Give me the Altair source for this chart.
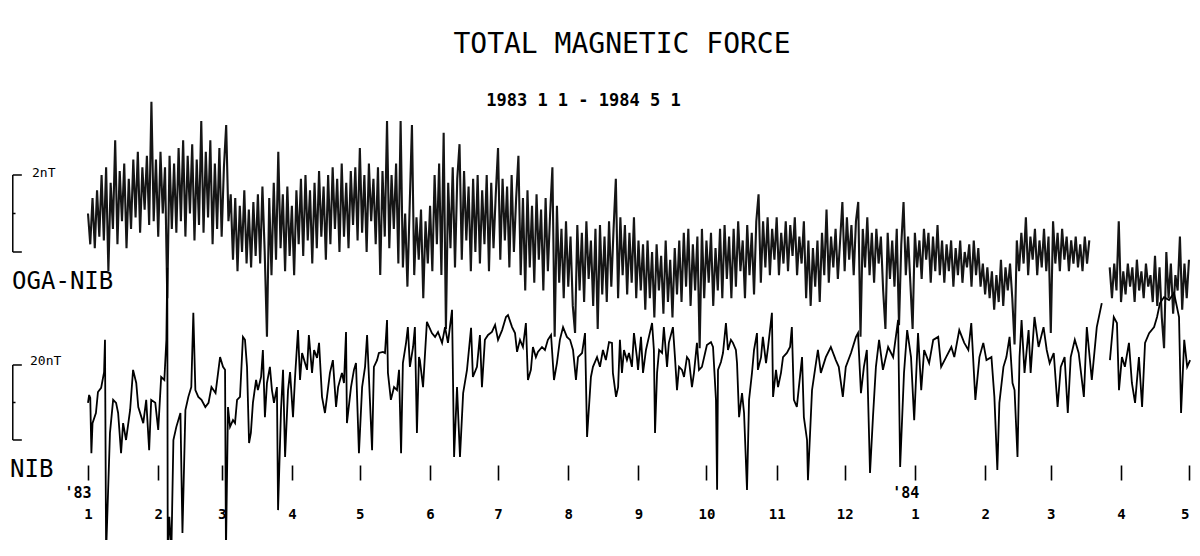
import altair as alt
import pandas as pd

# ---------------- data ----------------
# OGA-NIB daily values, units of 0.1 nT, day 0 = 1983-01-01 (first block: days 0..442)
oga_nib_a = [
    10, 2, 14, 1, 16,
    4, 20, 3, 22, -5, 18, 6, 29, 2, 21, 8, 23, 1, 19,
    6, 24, 9, 26, 5, 22, 11, 25, 7, 39, 8,
    24, 4, 26, 10, 22, -12, 25, 6, 23,
    5, 27, 8, 29, 4, 25, 10, 28, 3, 24, 7, 34, 5, 26, 9, 29, 2, 23, 6, 27, 4, 22, 33, 8,
    15, -2, 14, -5, 12, 0, 16, -3, 11, -4, 13, -1, 15,
    -3, 17, 0, -22, 14, -6, 18, -2, 26, 1, 15, -5, 17, -1, 12, -6, 16, 2,
    19, -1, 20, 3, 16, -3, 18, 1, 21, 4, 17, -2, 20,
    2, 22, 6, 19, 0, 23, 4, 18, 1, 21, 7, 22, 3, 27, 5, 20, 0, 23, 8, 19, 2, 22, -6, 21, 4, 34, 1, 20, 6, 23, -3,
    34, -4, 10, -9, 12, 33, -6, 9, -2, 11, -12, 8, -3, 12,
    -5, 20, 2, 23, -6, 31, -20, 18, 1, 22, -4, 19, 28, -2, 21, 3, 17,
    -5, 19, 0, 20, -3, 16, 2, 20, -5, 18, 1, 15, 27, -2, 19, 3, 17, -4, 20, 0, 14, 25,
    -6, 14, -10, 16, -4, 12, -8, 15, -2, 11, -10, 14, -5, 10, 22, -22, 12, -8,
    6, -12, 8, -9, 4, -14, -21, 7, -10, 5, -13, 8, -7, 3, -14, 6, -20, 7, -11, 4, -13, 8,
    -9, 6, 19, -12, 9, -6, 7, -11, 5, -8, 9, -12, 3, -10,
    2, -15, 3, -12, 0, -17, 2, -10, -1, -16, 3, -13, -2, -17, 1, -11, 3,
    -13, 5, -9, 6, -14, 2, -10, 4, -25, 6, -12, 3, -8, 5, -14, 1, -10, 6,
    -12, 7, -7, 4, -12, 6, -9, 8, -5, 3, -12, 7, -6, 5, -11, 8, 15, -8,
    8, -4, 9, -6, 6, -2, 9, -6, 5, -3, 8, -5, 7, -1, 9, -6, 4, -3,
    8, -12, 3, -14, 1, -9, 3, -13,
    5, -6, 11, -8, 4, -4, 6, -7, 3,
    13, -5, 9, -2, 7, -6, 8, 13, -22, 6, -4, 9, -6, 5,
    -8, 6, -3, 4, -10, -20, 5, -7, 3, -9, 6, -19, 2,
    13, -6, 4, -8, -20, 5, -4, 3, -7, 6, -2, 5, -8, 4, -5, 7, -6, 3,
    -8, 2, -5, 3, -9, 1, -6, 3, -8, 0, -4, 2, -9, 3, -6, 1, -9,
    -3, -11, -4, -12, -5, -15, -6, -13, -2, -14, -4, -10, -3, -12,
    -24, 3, -5, 5, -3, 9, -6, 4, -2, 6, -6, 3, -4,
    6, -5, 4, -21, 8, -3, 5, -5, 6,
    -2, 4, -5, 3, -3, 4, -4, 2, -5, 4, -3, 3,
]
# second block after the gap: days 451..486
oga_nib_b_start = 451
oga_nib_b = [
    -4, -12, -3, -10, 8, -13, -5, -11, -3, -9, -4, -13, -2, -10, -5, -12, -3, -9, -6, -13,
    -1, -14, -4, -17, -25, 0, -12, -3, -16, -6, -10, 4, -15, -3, -12, -2,
]

# NIB values (nT, relative) at days since 1983-01-01
nib_day = [
    # Jan - Feb 1983
    0, 0.5, 1, 1.5, 2, 3.5, 4.4, 5.8, 7.1, 7.5,
    8, 9.7, 11.1, 12.4, 13.3, 14.6, 15.5, 16.8, 18.6, 19.9,
    21.3, 22.2, 24.4, 25.7, 27, 27.9, 29.7, 31, 32.3, 33.7,
    34.6, 35, 35.2, 35.9, 36.8, 37.7, 39, 40.8, 41.7, 43,
    44.3, 45.6, 46.5, 47.4, 48.7, 50.1, 51.8, 53.2, 54.5, 56.3,
    # Mar - May
    58.3, 59.6, 60.5, 60.9, 61.8, 62.7, 64, 64.9, 65.8, 67.1,
    68.4, 69.3, 70.2, 71.1, 71.9, 72.8, 74.2, 75, 76.4, 77.2,
    78.1, 79, 80.3, 81.2, 82.1, 83.4, 83.9, 85.2, 86.1, 87,
    88.3, 89.2, 90.5, 91.4, 92.7, 93.6, 94.5, 95.8, 96.7, 97.5,
    98.9, 99.8, 101.1, 102, 103.3, 104.6, 105.5, 106.8, 108.1, 109.5,
    110.4, 112.1, 113, 113.9, 114.3, 116.1, 117.4, 118.3, 119.6, 121,
    122.3, 123.2, 124.5, 125.4, 126.2, 127.6, 128.4, 130.2, 131.1, 132,
    132.4, 133.7, 135.1, 136.4, 137.3, 138.2, 139, 140.4, 141.2, 142.1,
    143.5, 144.3, 145.2, 146.1,
    # Jun - Aug
    146.5, 147.9, 149.6, 151.8, 153.2, 154.5, 156.3, 157.6, 158.9, 160.7,
    161.6, 162.9, 164.2, 165.6, 167.3, 169.1, 169.9, 171.7, 173, 173.9,
    175.2, 176.6, 178.3, 179.7, 181, 182.8, 184.5, 185.4, 187.2, 188.5,
    189.4, 190.7, 192, 193.3, 194.2, 195.5, 196.4, 197.7, 198.6, 200.4,
    201.7, 203, 204.4, 205.7, 207, 208.3, 209.7, 211.4, 212.8, 214.1,
    215.4, 216.3, 218.1, 219.4, 220.3, 222, 222.9, 224.7, 226, 227.3,
    228.6, 230, 231.3, 231.7, 233.1, 234,
    # Aug - Nov
    234.8, 235.7, 236.6, 237.9, 238.8, 240.1, 241, 242.3, 242.8, 244.1,
    245, 246.3, 247.6, 249, 249.8, 250.3, 251.2, 252.1, 253.4, 254.2,
    255.6, 256.4, 258.2, 259.1, 260, 260.9, 262.2, 263.1, 264.4, 265.3,
    266.6, 267.5, 268.8, 269.7, 271, 272.4, 273.2, 275, 275.9, 277.2,
    277.7, 278.1, 279.4, 280.3, 281.6, 282.5, 283.8, 284.7, 286, 286.5,
    287.4, 288.7, 289.6, 290.9, 291.8, 293.1, 294, 295.3, 295.7, 297.1,
    297.9, 299.3, 300.2, 301.9, 302.4, 303.7, 304.6, 305.9, 306.8, 308.5,
    309.9, 310.7, 311.6, 312.9, 313.8, 315.2, 316, 317.4, 317.8, 319.6,
    320.9, 322.2,
    # Nov 1983 - May 1984
    323.5,
    325.7, 327.9, 330.1, 331.4, 333.2, 334.5, 336.8, 339, 339.9, 341.2,
    342.5, 343.8, 345.2, 346.5, 347.8, 349.2, 350.9, 353.2, 355.4, 357.6,
    358.5, 360.2, 361.6, 363.3, 364.7, 366.4, 367.8, 369.1, 371.3, 373.1,
    375.3, 376.6, 378.8, 381.1, 382.4, 384.6, 386.8, 388.6, 389.9, 391.7,
    393.5, 395.2, 396.6, 398.8, 400.1, 401.4, 402.3, 404.1, 405.4, 406.8,
    408.1, 409, 410.3, 411.2, 412.1, 413.4, 415.2, 416.1, 417.8, 419.6,
    421.8, 423.2, 424.5, 426.3, 428, 429.4, 431.1, 432.5, 433.8, 435.6,
    437.3, 439.6, 440.9, 443.1, 445.3, 447.5, 451.1, 452.8, 454.2, 455.1,
    456.4, 457.7, 459.5, 460.8, 462.2, 463.9, 465.3, 466.6, 468.4, 470.6,
    471.9, 473.2, 475, 477.2, 479.4, 481.6, 482.5, 483.9, 485.2, 486.5,
]
nib_nT = [
    # Jan - Feb 1983
    9.9, 12, 11.2, -3.5, 4.5, 7.2, 12.8, 13.9, 18.1, 26.7,
    -30.1, 1.9, 10.7, 9.9, 7.2, -3.5, 4.5, 0, 8, 18.7,
    15.2, 8.8, 4.5, 10.7, -2.7, 10.7, 9.9, 2.7, 16.8, 16,
    26.7, 45.9, -30, -20.5, -30, 0, 3.5, 7.2, -24.8, 8,
    11.5, 14.1, 33.9, 13.3, 11.5, 10.7, 8.8, 9.9, 14.1, 12.5,
    # Mar - May
    22.1, 19.5, 18.7, -30.1, 8.8, 3.5, 5.3, 4.5, 10.7, 11.5,
    27.5, 26.7, 19.5, -0.8, 1.9, 9.9, 16, 13.3, 16.8, 24,
    6.1, 15.2, 19.5, 13.3, 9.9, 14.1, -18.7, 8, 18.7, -4.5,
    13.3, 18.1, 6.1, 16.8, 29.3, 16, 23.2, 20.5, 18.7, 28,
    17.9, 24, 21.9, 25.9, 11.5, 7.2, 11.5, 17.9, 21.3, 8.8,
    14.1, 17.9, 15.2, 28.8, 4.5, 14.1, 18.7, 20.5, -3.5, 14.1,
    19.5, 28, 9.9, -2.7, 19.5, 21.3, 23.2, 23.5, 23.2, 32,
    17.9, 10.7, 14.1, 13.3, 18.7, -3.5, 20.5, 25.9, 30.1, 19.5,
    24.8, 30.1, 1.9, 22.1,
    # Jun - Aug
    21.3, 14.1, 31.5, 28.5, 27.5, 28.8, 25.9, 30.1, 25.9, 34.7,
    -4.5, 14.1, -4.5, 12.5, 18.7, 29.9, 16.8, 19.5, 28, 14.1,
    26.7, 28, 28.8, 30.7, 26.7, 29.3, 32.8, 33.3, 30.1, 28.5,
    23.5, 26.7, 24.8, 31.2, 16, 18.7, 24.8, 22.1, 23.5, 24.8,
    24, 26.7, 28, 16, 20.5, 26.7, 30.1, 27.5, 26.7, 24,
    16, 22.1, 23.2, 28.5, 0.8, 16.8, 19.5, 22.1, 19.5, 24,
    21.3, 26.1, 25.9, 17.9, 11.5, 14.1,
    # Aug - Nov
    26.7, 17.9, 24, 21.3, 23.2, 19.5, 28.5, 22.1, 18.7, 27.5,
    17.9, 24, 27.5, 31.2, 24, 1.9, 17.9, 24, 23.2, 30.1,
    19.5, 25.9, 30.1, 22.1, 13.3, 19.5, 18.7, 16.8, 22.1, 21.3,
    14.1, 17.9, 25.9, 18.7, 19.5, 23.2, 25.3, 26.1, 24.8, 10.7,
    -13.3, 18.7, 20.8, 23.2, 31.2, 24, 26.7, 25.9, 24, 20.5,
    6.1, 12.5, 7.2, -13.3, 10.7, 17.9, 24, 28.5, 18.7, 22.1,
    27.5, 20.5, 24.8, 33.9, 11.5, 18.7, 14.1, 17.9, 22.1, 23.2,
    24.8, 30.1, 10.7, 8.8, 14.1, 22.1, 6.1, 0, -10.7, 13.3,
    18.7, 24,
    # Nov 1983 - May 1984
    17.9,
    22.1, 24.8, 21.3, 19.5, 11.5, 19.5, 23.2, 27.5, 28.5, 12.5,
    19.5, 24, -8.8, 6.1, 19.5, 26.7, 18.7, 24.8, 22.1, 32,
    -7.2, 17.9, 29.3, 22.1, 5.3, 28.5, 13.3, 24, 20.5, 26.7,
    27.5, 19.5, 22.1, 24.8, 22.1, 29.3, 25.9, 24, 31.2, 10.7,
    22.1, 25.9, 21.3, 22.1, 11.5, -8, 9.9, 19.5, 22.1, 27.5,
    15.2, 13.3, -4.5, 22.1, 32, 17.9, 29.3, 17.9, 32.8, 24.8,
    30.1, 24, 20.5, 23.2, 8.8, 19.5, 22.1, 7.2, 22.1, 26.7,
    23.2, 11.5, 30.1, 16, 30.1, 36.5, 21.3, 32.8, 31.2, 13.3,
    22.1, 19.5, 25.9, 15.2, 9.9, 22.1, 8.8, 25.9, 28.5, 30.1,
    32.8, 36.5, 38.1, 37.3, 39.2, 32.8, 7.2, 26.7, 19.5, 21.3,
]
assert len(nib_day) == len(nib_nT), (len(nib_day), len(nib_nT))
nib_gap_day = 449  # record interrupted

# month ticks (days since 1983-01-01) and their labels
month_days = [0, 31, 59, 90, 120, 151, 181, 212, 243, 273, 304, 334, 365, 396, 425, 456, 486]
month_labels = ["1", "2", "3", "4", "5", "6", "7", "8", "9", "10", "11", "12",
                "1", "2", "3", "4", "5"]
year_marks = ["'83", "'84"]
year_days = [-4.4, 361]

title_text = "TOTAL MAGNETIC FORCE"
period_text = "1983 1 1 - 1984 5 1"
scale_top_nT = 2
scale_nib_nT = 20

# ---------------- frames ----------------
top_rows = [{"day": i, "nT": v / 10.0, "seg": 0} for i, v in enumerate(oga_nib_a)]
top_rows += [{"day": oga_nib_b_start + i, "nT": v / 10.0, "seg": 1} for i, v in enumerate(oga_nib_b)]
df_top = pd.DataFrame(top_rows)

df_nib = pd.DataFrame({"day": nib_day, "nT": nib_nT})
df_nib["seg"] = (df_nib["day"] > nib_gap_day).astype(int)

FONT = "DejaVu Sans Mono"
XDOM = [-35.31, 487.33]

label_expr = ("[" + ",".join("'%s'" % l for l in month_labels) + "][indexof(["
              + ",".join(str(d) for d in month_days) + "], datum.value)]")

def xenc(field="day"):
    return alt.X(f"{field}:Q", scale=alt.Scale(domain=XDOM, nice=False, zero=False),
                 axis=alt.Axis(values=month_days, labelExpr=label_expr, title=None,
                               domain=False, grid=False, tickSize=15, tickWidth=1.6,
                               tickColor="black", labelFont=FONT, labelFontSize=14,
                               labelFontWeight="bold", labelColor="black",
                               labelPadding=27, offset=-75, labelFlush=6,
                               labelOverlap=False))

def x2enc(field):
    return alt.X2(f"{field}:Q")

top_scale = alt.Scale(domain=[-7.48, 3.74], nice=False, zero=False)
nib_scale = alt.Scale(domain=[-26.67, 88.53], nice=False, zero=False)

def bracket(top_val):
    # vertical bar, two serifs and a middle tick
    return pd.DataFrame({
        "x": [-33.2, -33.2, -33.2, -33.2],
        "x2": [-33.2, -29.2, -29.2, -32.0],
        "y": [0, top_val, 0, top_val / 2],
        "y2": [top_val, top_val, 0, top_val / 2],
    })

# ---------------- OGA-NIB layer ----------------
top_line = alt.Chart(df_top).mark_line(color="#151515", strokeWidth=2.1, clip=False,
                                       strokeJoin="miter", strokeMiterLimit=2).encode(
    x=xenc(), y=alt.Y("nT:Q", scale=top_scale, axis=None), detail="seg:N")
top_br = alt.Chart(bracket(scale_top_nT)).mark_rule(color="black", strokeWidth=1.5).encode(
    x=xenc("x"), x2=x2enc("x2"), y=alt.Y("y:Q", scale=top_scale, axis=None), y2="y2:Q")
top_txt_df = pd.DataFrame({
    "day": [-24.7, -33.5, 218.7],
    "nT": [2.06, -0.77, 3.92],
    "t": [f"{scale_top_nT}nT", "OGA-NIB", period_text],
})
top_txt_small = alt.Chart(top_txt_df.iloc[[0]]).mark_text(
    font=FONT, fontSize=13, align="left", baseline="middle", color="black").encode(
    x=xenc(), y=alt.Y("nT:Q", scale=top_scale, axis=None), text="t:N")
top_txt_name = alt.Chart(top_txt_df.iloc[[1]]).mark_text(
    font=FONT, fontSize=24, align="left", baseline="middle", color="black").encode(
    x=xenc(), y=alt.Y("nT:Q", scale=top_scale, axis=None), text="t:N")
top_txt_period = alt.Chart(top_txt_df.iloc[[2]]).mark_text(
    font=FONT, fontSize=17, fontWeight="bold", align="center", baseline="middle",
    color="black").encode(
    x=xenc(), y=alt.Y("nT:Q", scale=top_scale, axis=None), text="t:N")
top_layer = alt.layer(top_line, top_br, top_txt_small, top_txt_name, top_txt_period)

# ---------------- NIB layer ----------------
nib_line = alt.Chart(df_nib).mark_line(color="black", strokeWidth=1.8, clip=True).encode(
    x=xenc(), y=alt.Y("nT:Q", scale=nib_scale, axis=None), detail="seg:N")
nib_br = alt.Chart(bracket(scale_nib_nT)).mark_rule(color="black", strokeWidth=1.5).encode(
    x=xenc("x"), x2=x2enc("x2"), y=alt.Y("y:Q", scale=nib_scale, axis=None), y2="y2:Q")
nib_small = alt.Chart(pd.DataFrame({"day": [-25.6], "nT": [21.07], "t": [f"{scale_nib_nT}nT"]})).mark_text(
    font=FONT, fontSize=13, align="left", baseline="middle", color="black").encode(
    x=xenc(), y=alt.Y("nT:Q", scale=nib_scale, axis=None), text="t:N")
nib_name = alt.Chart(pd.DataFrame({"day": [-34.4], "nT": [-8.13], "t": ["NIB"]})).mark_text(
    font=FONT, fontSize=24, align="left", baseline="middle", color="black").encode(
    x=xenc(), y=alt.Y("nT:Q", scale=nib_scale, axis=None), text="t:N")
years = alt.Chart(pd.DataFrame({"day": year_days, "nT": [-14.1, -14.1], "t": year_marks})).mark_text(
    font=FONT, fontSize=15, fontWeight="bold", align="center", baseline="middle",
    color="black").encode(
    x=xenc(), y=alt.Y("nT:Q", scale=nib_scale, axis=None), text="t:N")
nib_layer = alt.layer(nib_line, nib_br, nib_small, nib_name, years)

chart = alt.layer(top_layer, nib_layer).resolve_scale(y="independent").properties(
    width=1184, height=432,
    padding={"left": 0, "right": 0, "top": 100, "bottom": 0},
    autosize=alt.AutoSizeParams(type="none"),
    background="white",
    title=alt.TitleParams(title_text, font=FONT, fontSize=28, fontWeight="normal",
                          color="black", anchor="middle", frame="group", dx=22, offset=33),
).configure_view(stroke=None)

chart.save("out.html", embed_options={"renderer": "svg", "actions": False})
